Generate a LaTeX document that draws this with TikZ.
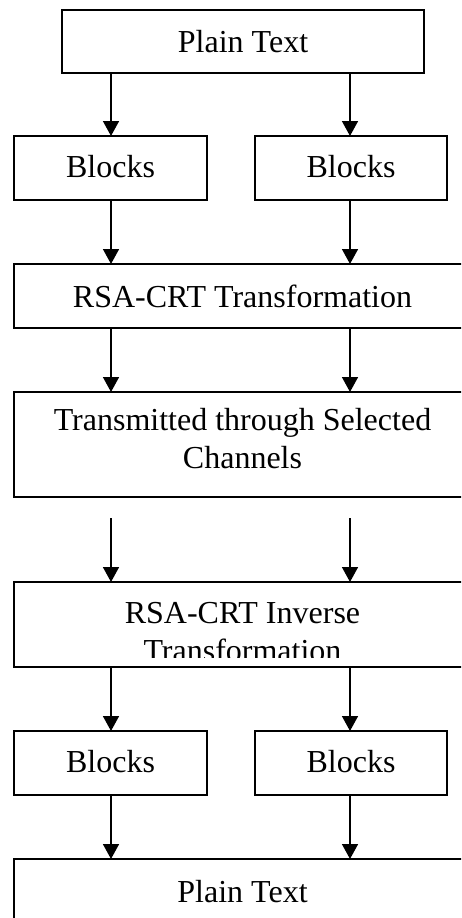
\documentclass[tikz,border=0pt]{standalone}
\usepackage{fontspec}
\setmainfont{Liberation Serif}
\usetikzlibrary{arrows.meta}
\begin{document}
\begin{tikzpicture}[x=1pt,y=-1pt,
  box/.style={draw=black,line width=1.6pt,inner sep=0pt,outer sep=0pt,anchor=north west},
  lbl/.style={inner sep=0pt,anchor=base,align=center,font=\fontsize{32}{38}\selectfont},
  arr/.style={line width=1.6pt,-{Triangle[width=16pt,length=15pt]}}]
\useasboundingbox (0,0) rectangle (461,918);
\clip (0,0) rectangle (461,918);
% boxes
\node[box,minimum width=362pt,minimum height=63pt] (pt1) at (62,10) {};
\node[box,minimum width=193pt,minimum height=64pt] (bl1) at (14,136) {};
\node[box,minimum width=192pt,minimum height=64pt] (br1) at (255,136) {};
\node[box,minimum width=457pt,minimum height=64pt] (rsa) at (14,264) {};
\node[box,minimum width=457pt,minimum height=105pt] (tx) at (14,392) {};
\node[box,minimum width=457pt,minimum height=85pt] (inv) at (14,582) {};
\node[box,minimum width=193pt,minimum height=64pt] (bl2) at (14,731) {};
\node[box,minimum width=192pt,minimum height=64pt] (br2) at (255,731) {};
\node[box,minimum width=457pt,minimum height=80pt] (pt2) at (14,859) {};
% labels
\node[lbl] (tpt1) at (243,52) {Plain Text};
\node[lbl] (tbl1) at (110.5,177) {Blocks};
\node[lbl] (tbr1) at (351,177) {Blocks};
\node[lbl] (trsa) at (242.5,307) {RSA-CRT Transformation};
\node[lbl] (ttx) at (242.5,468) {Transmitted through Selected\\Channels};
\begin{scope}
\clip (14,582) rectangle (471,657);
\node[lbl] (tinv) at (242.5,661) {RSA-CRT Inverse\\Transformation};
\end{scope}
\node[lbl] (tbl2) at (110.5,772) {Blocks};
\node[lbl] (tbr2) at (351,772) {Blocks};
\node[lbl] (tpt2) at (242.5,902) {Plain Text};
% columns
\coordinate (cL) at (111,0);
\coordinate (cR) at (350,0);
\coordinate (sL) at (111,518);
\coordinate (sR) at (350,518);
% arrows
\draw[arr] (pt1.south -| cL) -- (bl1.north -| cL);
\draw[arr] (pt1.south -| cR) -- (br1.north -| cR);
\draw[arr] (bl1.south -| cL) -- (rsa.north -| cL);
\draw[arr] (br1.south -| cR) -- (rsa.north -| cR);
\draw[arr] (rsa.south -| cL) -- (tx.north -| cL);
\draw[arr] (rsa.south -| cR) -- (tx.north -| cR);
\draw[arr] (sL) -- (inv.north -| cL);
\draw[arr] (sR) -- (inv.north -| cR);
\draw[arr] (inv.south -| cL) -- (bl2.north -| cL);
\draw[arr] (inv.south -| cR) -- (br2.north -| cR);
\draw[arr] (bl2.south -| cL) -- (pt2.north -| cL);
\draw[arr] (br2.south -| cR) -- (pt2.north -| cR);
\end{tikzpicture}
\end{document}
